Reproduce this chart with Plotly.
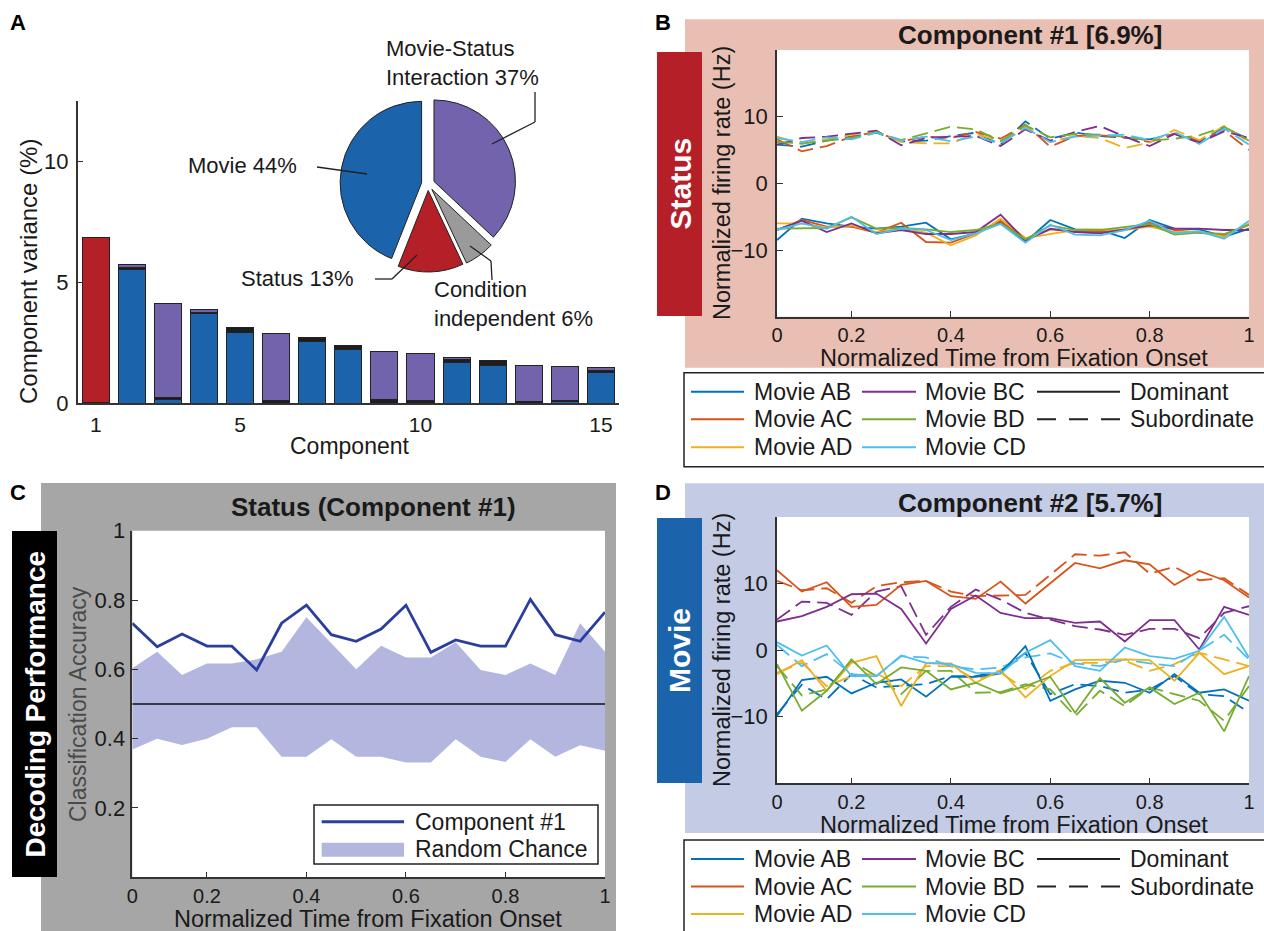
import plotly.graph_objects as go

W, H = 1264, 931
FONT = "Liberation Sans, Arial, Helvetica, sans-serif"
TXT = "#1a1a1a"

# ---------------- Panel A data ----------------
components = [1, 2, 3, 4, 5, 6, 7, 8, 9, 10, 11, 12, 13, 14, 15]
var_movie = [None, 5.53, 0.16, 3.69, 2.94, None, 2.56, 2.23, None, 0.05, 1.68, 1.58, None, 0.08, 1.27]
var_cond = [0.05, 0.08, 0.08, 0.07, 0.21, 0.10, 0.16, 0.14, 0.16, 0.06, 0.12, 0.17, 0.08, 0.04, 0.07]
var_status = [6.81, None, None, None, None, None, None, None, None, None, None, None, None, None, None]
var_inter = [None, 0.13, 3.87, 0.13, None, 2.79, None, None, 1.99, 1.95, 0.08, None, 1.50, 1.42, 0.12]

pie_labels = ["Movie-Status Interaction", "Condition independent", "Status", "Movie"]
pie_values = [37, 6, 13, 44]

COL_MOVIE = "#1B63AB"
COL_INTER = "#7362AC"
COL_STATUS = "#B51F27"
COL_COND = "#1E1E1E"
COL_PIE_COND = "#9A9A9A"

# ---------------- time axis ----------------
time = [0.05, 0.10, 0.15, 0.20, 0.25, 0.30, 0.35, 0.40, 0.45, 0.50,
        0.55, 0.60, 0.65, 0.70, 0.75, 0.80, 0.85, 0.90, 0.95, 1.00]
time_tickvals = [0.05, 0.2, 0.4, 0.6, 0.8, 1.0]
time_ticktext = ["0", "0.2", "0.4", "0.6", "0.8", "1"]

movies = ["AB", "AC", "AD", "BC", "BD", "CD"]
movie_colors = {"AB": "#0072BD", "AC": "#D95319", "AD": "#EDB120",
                "BC": "#7E2F8E", "BD": "#77AC30", "CD": "#4DBEEE"}

# ---------------- Panel B data (Component #1) ----------------
B_DOM_AB = [-8.5, -5.3, -6.0, -6.5, -6.8, -6.5, -5.9, -8.4, -7.5, -5.8, -8.8, -5.5, -6.9, -7.0, -8.2, -5.5, -6.8, -6.9, -8.0, -6.8]
B_DOM_AC = [-7.0, -5.5, -6.5, -6.5, -7.4, -5.9, -8.8, -8.9, -7.5, -5.6, -8.5, -6.9, -7.2, -7.3, -7.0, -5.9, -7.0, -7.4, -7.8, -6.2]
B_DOM_AD = [-6.0, -6.0, -6.6, -6.3, -7.3, -6.8, -7.4, -9.3, -7.8, -5.3, -8.2, -7.6, -7.0, -6.9, -7.0, -6.5, -7.3, -7.2, -8.0, -6.0]
B_DOM_BC = [-7.0, -5.6, -7.3, -6.0, -7.5, -7.0, -7.6, -7.6, -7.3, -4.7, -8.6, -6.8, -7.3, -7.5, -6.9, -6.3, -6.8, -6.8, -7.0, -7.0]
B_DOM_BD = [-6.8, -6.8, -6.7, -5.1, -6.8, -6.7, -6.9, -7.3, -7.0, -6.0, -8.4, -6.3, -7.0, -7.0, -6.6, -6.1, -7.7, -7.4, -7.6, -6.2]
B_DOM_CD = [-7.0, -6.0, -6.8, -5.0, -7.6, -6.8, -7.0, -8.5, -7.5, -6.1, -8.9, -6.2, -7.7, -7.8, -7.0, -5.6, -7.5, -7.2, -8.3, -5.6]
B_SUB_AB = [5.8, 5.5, 6.4, 7.0, 7.6, 6.3, 6.4, 7.1, 7.6, 5.8, 9.3, 6.7, 7.6, 7.1, 6.9, 6.6, 7.4, 6.3, 8.4, 6.6]
B_SUB_AC = [6.6, 4.8, 5.6, 7.0, 7.7, 6.3, 7.0, 6.8, 7.7, 6.7, 8.8, 5.5, 7.1, 7.2, 6.9, 6.2, 7.5, 6.4, 7.9, 5.0]
B_SUB_AD = [7.0, 5.9, 6.6, 7.3, 7.8, 6.2, 6.0, 6.0, 7.4, 6.3, 8.5, 6.2, 7.1, 6.8, 5.3, 6.1, 8.0, 6.5, 8.6, 6.2]
B_SUB_BC = [5.8, 6.8, 7.0, 7.4, 7.9, 5.7, 6.8, 7.0, 7.1, 5.6, 8.1, 6.4, 7.7, 8.6, 7.0, 5.6, 7.4, 6.1, 7.8, 6.8]
B_SUB_BD = [6.2, 6.0, 6.4, 6.8, 7.7, 6.5, 7.5, 8.5, 8.1, 6.3, 8.7, 6.9, 7.4, 7.3, 7.0, 6.4, 6.7, 7.2, 8.5, 6.4]
B_SUB_CD = [6.8, 6.2, 6.9, 6.6, 7.6, 6.4, 7.0, 6.3, 7.0, 6.0, 8.3, 6.2, 7.0, 7.1, 7.3, 6.5, 7.7, 5.9, 8.2, 5.8]

# ---------------- Panel D data (Component #2) ----------------
D_DOM_AB = [-9.9, -4.5, -4.0, -6.5, -4.9, -4.4, -7.0, -4.0, -4.0, -3.5, 0.6, -7.6, -5.9, -4.6, -4.9, -6.4, -3.6, -6.4, -5.9, -7.6]
D_DOM_AC = [12.0, 8.8, 10.2, 6.5, 6.8, 9.8, 10.4, 8.1, 7.7, 10.3, 7.0, 10.0, 13.1, 12.3, 13.5, 12.9, 9.8, 11.9, 10.5, 7.9]
D_DOM_AD = [-3.6, -1.5, -6.1, -1.9, -0.9, -8.4, -2.0, -2.0, -4.9, -3.0, -7.1, -3.9, -1.5, -1.4, -1.4, -1.5, -4.6, -0.4, -3.6, -2.4]
D_DOM_BC = [4.3, 5.1, 6.5, 8.4, 8.5, 6.2, 1.0, 6.2, 8.2, 5.6, 4.8, 4.8, 4.1, 4.3, 1.3, 4.5, 4.5, 0.1, 6.5, 5.3]
D_DOM_BD = [-2.1, -9.1, -6.1, -1.4, -5.1, -2.6, -3.1, -5.9, -4.9, -6.5, -5.4, -4.0, -9.4, -4.2, -7.9, -5.6, -8.1, -6.4, -12.2, -3.9]
D_DOM_CD = [1.2, -0.8, 0.7, -3.9, -3.9, -0.8, -1.9, -2.1, -3.4, -3.5, -0.4, 1.5, -2.4, -3.1, 0.4, -0.9, -1.3, -0.1, 5.0, -1.1]
D_SUB_AB = [-9.6, -5.2, -7.4, -3.6, -5.6, -5.4, -5.1, -3.9, -3.9, -3.1, -0.4, -6.6, -5.1, -5.4, -6.4, -5.9, -3.9, -6.6, -6.9, -9.4]
D_SUB_AC = [10.4, 9.0, 9.3, 7.1, 9.6, 10.2, 10.4, 8.8, 8.1, 8.2, 8.3, 11.3, 14.4, 14.2, 14.7, 11.5, 12.5, 10.5, 10.8, 8.3]
D_SUB_AD = [-3.4, -1.9, -5.4, -3.9, -3.5, -5.4, -2.4, -2.4, -4.4, -3.4, -5.9, -3.1, -1.9, -1.9, -1.6, -3.1, -2.1, -0.4, -1.4, -2.4]
D_SUB_BC = [4.6, 7.3, 7.1, 5.3, 8.8, 9.6, 2.3, 6.5, 9.1, 7.6, 5.6, 4.6, 3.6, 3.1, 2.3, 3.2, 3.2, 1.8, 5.6, 6.6]
D_SUB_BD = [-2.4, -6.8, -5.9, -1.6, -3.9, -6.6, -3.1, -3.1, -6.4, -6.3, -5.1, -5.9, -9.9, -6.1, -8.4, -5.6, -6.6, -7.6, -10.6, -5.4]
D_SUB_CD = [0.8, -2.4, -0.6, -3.6, -3.9, -0.9, -1.1, -2.4, -2.9, -2.6, -1.1, -0.5, -2.0, -2.4, -1.4, -2.0, -2.4, 0.0, 2.3, -1.4]

B_DOM = {"AB": B_DOM_AB, "AC": B_DOM_AC, "AD": B_DOM_AD, "BC": B_DOM_BC, "BD": B_DOM_BD, "CD": B_DOM_CD}
B_SUB = {"AB": B_SUB_AB, "AC": B_SUB_AC, "AD": B_SUB_AD, "BC": B_SUB_BC, "BD": B_SUB_BD, "CD": B_SUB_CD}
D_DOM = {"AB": D_DOM_AB, "AC": D_DOM_AC, "AD": D_DOM_AD, "BC": D_DOM_BC, "BD": D_DOM_BD, "CD": D_DOM_CD}
D_SUB = {"AB": D_SUB_AB, "AC": D_SUB_AC, "AD": D_SUB_AD, "BC": D_SUB_BC, "BD": D_SUB_BD, "CD": D_SUB_CD}

# ---------------- Panel C data ----------------
c_accuracy = [0.733, 0.665, 0.702, 0.667, 0.667, 0.598, 0.733, 0.785, 0.700, 0.681,
              0.716, 0.785, 0.649, 0.685, 0.667, 0.667, 0.802, 0.700, 0.681, 0.765]
c_chance_upper = [0.603, 0.651, 0.584, 0.617, 0.617, 0.629, 0.651, 0.750, 0.675, 0.600,
                  0.668, 0.634, 0.634, 0.678, 0.598, 0.584, 0.617, 0.584, 0.733, 0.651]
c_chance_lower = [0.369, 0.400, 0.382, 0.400, 0.433, 0.433, 0.348, 0.348, 0.398, 0.348,
                  0.348, 0.331, 0.331, 0.398, 0.348, 0.333, 0.398, 0.348, 0.381, 0.365]
chance_level = [0.5] * len(time)
COL_ACC = "#2A3F9D"
COL_BAND = "#B3B6DE"


def px(x):
    return x / W


def py(y):
    return 1 - y / H


def dom_x(a, b):
    return [px(a), px(b)]


def dom_y(top, bottom):
    return [py(bottom), py(top)]


fig = go.Figure()

# ---- Panel A bars ----
for vals, col, name in [(var_movie, COL_MOVIE, "Movie"), (var_cond, COL_COND, "Condition independent"),
                        (var_status, COL_STATUS, "Status"), (var_inter, COL_INTER, "Interaction")]:
    fig.add_trace(go.Bar(x=components, y=vals, marker=dict(color=col, line=dict(color="#222", width=1)),
                         width=0.75, name=name, showlegend=False, xaxis="x", yaxis="y", hoverinfo="skip"))

# ---- Pie ----
fig.add_trace(go.Pie(labels=pie_labels, values=pie_values, sort=False, direction="clockwise", rotation=0,
                     marker=dict(colors=[COL_INTER, COL_PIE_COND, COL_STATUS, COL_MOVIE],
                                 line=dict(color="#222", width=1)),
                     pull=[0.08, 0.08, 0.08, 0.08], textinfo="none", showlegend=False, hoverinfo="skip",
                     automargin=False,
                     domain=dict(x=dom_x(340, 516), y=dom_y(96, 272))))

# ---- Panel B lines ----
for m in movies:
    fig.add_trace(go.Scatter(x=time, y=B_SUB[m], mode="lines", line=dict(color=movie_colors[m], width=1.8, dash="16px,7px"),
                             showlegend=False, xaxis="x2", yaxis="y2", hoverinfo="skip"))
for m in movies:
    fig.add_trace(go.Scatter(x=time, y=B_DOM[m], mode="lines", line=dict(color=movie_colors[m], width=1.8),
                             showlegend=False, xaxis="x2", yaxis="y2", hoverinfo="skip"))

# ---- Panel C ----
fig.add_trace(go.Scatter(x=time, y=c_chance_lower, mode="lines", line=dict(width=0, color=COL_BAND),
                         showlegend=False, xaxis="x3", yaxis="y3", hoverinfo="skip"))
fig.add_trace(go.Scatter(x=time, y=c_chance_upper, mode="lines", line=dict(width=0, color=COL_BAND),
                         fill="tonexty", fillcolor=COL_BAND, showlegend=False, xaxis="x3", yaxis="y3", hoverinfo="skip"))
fig.add_trace(go.Scatter(x=time, y=chance_level, mode="lines", line=dict(width=1.5, color="#111"),
                         showlegend=False, xaxis="x3", yaxis="y3", hoverinfo="skip"))
fig.add_trace(go.Scatter(x=time, y=c_accuracy, mode="lines", line=dict(width=2.8, color=COL_ACC),
                         showlegend=False, xaxis="x3", yaxis="y3", hoverinfo="skip"))

# ---- Panel D lines ----
for m in movies:
    fig.add_trace(go.Scatter(x=time, y=D_SUB[m], mode="lines", line=dict(color=movie_colors[m], width=1.8, dash="16px,7px"),
                             showlegend=False, xaxis="x4", yaxis="y4", hoverinfo="skip"))
for m in movies:
    fig.add_trace(go.Scatter(x=time, y=D_DOM[m], mode="lines", line=dict(color=movie_colors[m], width=1.8),
                             showlegend=False, xaxis="x4", yaxis="y4", hoverinfo="skip"))

tickfont = dict(family=FONT, size=22, color=TXT)
xtickfont = dict(family=FONT, size=20, color=TXT)
base = dict(showline=True, linecolor="#333", linewidth=1.5, showgrid=False, zeroline=False, automargin=False,
            ticks="inside", ticklen=6, tickcolor="#333", tickwidth=1.2, tickfont=tickfont, fixedrange=True)

layout_axes = dict(
    xaxis=dict(base, domain=dom_x(77.7, 619), range=[0.5, 15.5], tickvals=[1, 5, 10, 15], ticks="",
               anchor="y", ticklabelstandoff=2, tickfont=dict(family=FONT, size=21, color=TXT)),
    yaxis=dict(base, domain=dom_y(100.7, 403.3), range=[0, 12.5], tickvals=[0, 5, 10], anchor="x",
               ticklabelstandoff=3),
    xaxis2=dict(base, domain=dom_x(777, 1249), range=[0.05, 1], tickvals=time_tickvals, ticktext=time_ticktext,
                anchor="y2", tickfont=xtickfont),
    yaxis2=dict(base, domain=dom_y(50, 316.7), range=[-20, 20], tickvals=[-10, 0, 10], anchor="x2",
                ticklabelstandoff=3),
    xaxis3=dict(base, domain=dom_x(132.3, 605), range=[0.05, 1], tickvals=time_tickvals, ticktext=time_ticktext,
                anchor="y3", tickfont=xtickfont),
    yaxis3=dict(base, domain=dom_y(530.7, 877.3), range=[0, 1], tickvals=[0.2, 0.4, 0.6, 0.8, 1],
                ticktext=["0.2", "0.4", "0.6", "0.8", "1"], anchor="x3", ticklabelstandoff=1),
    xaxis4=dict(base, domain=dom_x(777, 1249), range=[0.05, 1], tickvals=time_tickvals, ticktext=time_ticktext,
                anchor="y4", tickfont=xtickfont),
    yaxis4=dict(base, domain=dom_y(517, 783.3), range=[-20, 20], tickvals=[-10, 0, 10], anchor="x4",
                ticklabelstandoff=3),
)


def rect(x0, y0, x1, y1, fill, line_color=None, lw=0, layer="below"):
    return dict(type="rect", xref="paper", yref="paper", x0=px(x0), x1=px(x1), y0=py(y1), y1=py(y0),
                fillcolor=fill, line=dict(width=lw, color=line_color or fill), layer=layer)


def seg(x0, y0, x1, y1, color="#222", width=1.5, dash="solid"):
    return dict(type="line", xref="paper", yref="paper", x0=px(x0), x1=px(x1), y0=py(y0), y1=py(y1),
                line=dict(color=color, width=width, dash=dash), layer="above")


def ann(x, y, text, size=22, color=TXT, bold=False, xanchor="center", yanchor="middle", angle=0, align="center"):
    return dict(x=px(x), y=py(y), xref="paper", yref="paper", text=f"<b>{text}</b>" if bold else text,
                showarrow=False, font=dict(family=FONT, size=size, color=color), xanchor=xanchor,
                yanchor=yanchor, textangle=angle, borderpad=0, align=align)


shapes = [
    rect(41, 483, 616, 935, "#A6A6A6"),
    rect(685, 19.3, 1270, 367.7, "#E9BFB3"),
    rect(685, 483.3, 1270, 833, "#C4CBE4"),
    rect(777, 50, 1249, 316.7, "white"),
    rect(132.3, 530.7, 605, 877.3, "white"),
    rect(777, 517, 1249, 783.3, "white"),
    rect(657, 52, 702, 316, COL_STATUS),
    rect(657, 518, 702, 783, COL_MOVIE),
    rect(12, 531, 57, 877, "#000000"),
    rect(684, 372.7, 1275, 466.7, "white", "#222", 1.5),
    rect(684, 840, 1275, 945, "white", "#222", 1.5),
    rect(314, 805, 598, 864, "white", "#222", 1.5, layer="above"),
]

annotations = [
    ann(18, 22, "A", size=22, bold=True, color="#000"),
    ann(663, 22, "B", size=22, bold=True, color="#000"),
    ann(18, 493, "C", size=22, bold=True, color="#000"),
    ann(663, 493, "D", size=22, bold=True, color="#000"),
    ann(28, 272, "Component variance (%)", size=24, angle=-90),
    ann(350, 446, "Component", size=23),
    ann(1030, 35, "Component #1 [6.9%]", size=26, bold=True),
    ann(1030, 503, "Component #2 [5.7%]", size=26, bold=True),
    ann(373, 507, "Status (Component #1)", size=26, bold=True),
    ann(679.5, 184, "Status", size=30, bold=True, color="white", angle=-90),
    ann(679.5, 650.5, "Movie", size=30, bold=True, color="white", angle=-90),
    ann(34.5, 704, "Decoding Performance", size=28, bold=True, color="white", angle=-90),
    ann(722, 183, "Normalized firing rate (Hz)", size=23.5, angle=-90),
    ann(722, 650, "Normalized firing rate (Hz)", size=23.5, angle=-90),
    ann(1014, 357.5, "Normalized Time from Fixation Onset", size=23.5),
    ann(1014, 824.5, "Normalized Time from Fixation Onset", size=23.5),
    ann(368, 918.5, "Normalized Time from Fixation Onset", size=23.5),
    ann(78, 704, "Classification Accuracy", size=23, color="#4a4a4a", angle=-90),
    # pie labels
    ann(385, 63, "Movie-Status<br>Interaction 37%", size=22, xanchor="left", align="left"),
    ann(187, 165, "Movie 44%", size=22, xanchor="left"),
    ann(240, 278, "Status 13%", size=22, xanchor="left"),
    ann(433, 304, "Condition<br>independent 6%", size=22, xanchor="left", align="left"),
    # C legend text
    ann(414, 821.7, "Component #1", size=23, xanchor="left"),
    ann(414, 849.3, "Random Chance", size=23, xanchor="left"),
]

# pie leader lines
shapes += [
    seg(535, 92, 535, 122, width=1.3), seg(535, 122, 492, 144, width=1.3),
    seg(317, 167, 367, 174, width=1.3),
    seg(375, 279, 392, 279, width=1.3), seg(392, 279, 417, 255, width=1.3),
    seg(492, 280, 491, 261, width=1.3), seg(491, 261, 470, 246, width=1.3),
]

# C legend glyphs
shapes += [seg(321.7, 821.7, 404, 821.7, color=COL_ACC, width=3),
           rect(321.7, 842.7, 404, 856.7, COL_BAND, layer="above")]

# B / D legends
for rows in ([391.7, 419.3, 447.3], [859, 886.5, 914]):
    for i, m in enumerate(movies[:3]):
        shapes.append(seg(691, rows[i], 744, rows[i], color=movie_colors[m], width=2))
        annotations.append(ann(752.7, rows[i], "Movie " + m, size=23, xanchor="left"))
    for i, m in enumerate(movies[3:]):
        shapes.append(seg(862, rows[i], 916, rows[i], color=movie_colors[m], width=2))
        annotations.append(ann(924, rows[i], "Movie " + m, size=23, xanchor="left"))
    shapes.append(seg(1037, rows[0], 1120, rows[0], color="#222", width=2))
    shapes.append(seg(1037, rows[1], 1120, rows[1], color="#222", width=2, dash="19px,13px"))
    annotations.append(ann(1129, rows[0], "Dominant", size=23, xanchor="left"))
    annotations.append(ann(1129, rows[1], "Subordinate", size=23, xanchor="left"))

fig.update_layout(
    template="none",
    width=W, height=H, margin=dict(l=0, r=0, t=0, b=0, pad=0, autoexpand=False), autosize=False,
    paper_bgcolor="white", plot_bgcolor="rgba(0,0,0,0)", showlegend=False,
    barmode="stack", bargap=0.25,
    font=dict(family=FONT, size=22, color=TXT),
    shapes=shapes, annotations=annotations, **layout_axes,
)

fig.write_html("out.html", config={"displayModeBar": False},
               post_script="document.body.style.margin='0px';document.body.style.overflow='hidden';")
